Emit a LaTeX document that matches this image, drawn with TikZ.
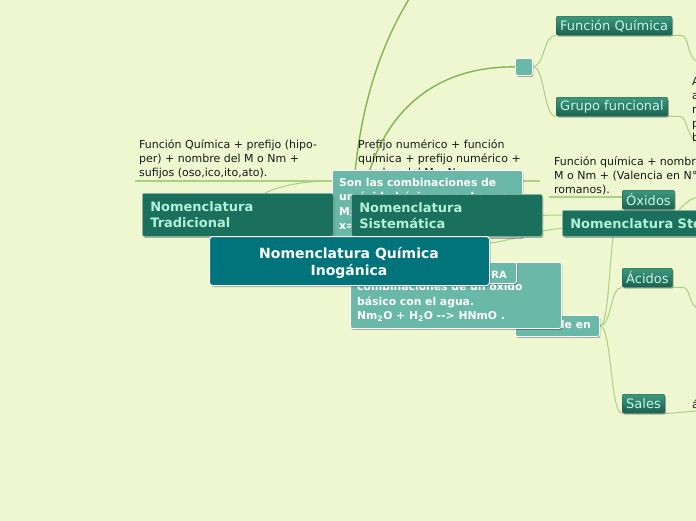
\documentclass[tikz,border=0pt]{standalone}
\usepackage{fontspec}
\setmainfont{DejaVu Sans}
\usetikzlibrary{shadows,calc}
\pgfdeclarelayer{back}
\pgfdeclarelayer{lines}
\pgfsetlayers{back,lines,main}
\definecolor{bgc}{RGB}{238,247,208}
\definecolor{centrec}{RGB}{0,116,122}
\definecolor{topicc}{RGB}{26,112,92}
\definecolor{topictxt}{RGB}{178,240,218}
\definecolor{lteal}{RGB}{106,184,167}
\definecolor{subtop}{RGB}{62,152,126}
\definecolor{subbot}{RGB}{26,98,80}
\definecolor{subtxt}{RGB}{200,245,228}
\definecolor{mainline}{RGB}{128,182,82}
\definecolor{thinline}{RGB}{170,208,130}
\definecolor{textc}{RGB}{25,25,25}
\newcommand{\mylines}[1]{\begin{tabular}[t]{@{}l@{}}#1\end{tabular}}
\newcommand{\mylinesc}[1]{\begin{tabular}[t]{@{}c@{}}#1\end{tabular}}
\tikzset{
  shad/.style={drop shadow={shadow xshift=1pt,shadow yshift=-1.5pt,opacity=0.3,fill=black}},
  topicbox/.style={fill=topicc,draw=white!55!topicc,line width=0.6pt,rounded corners=2pt,
    text=topictxt,font=\fontsize{13}{16}\selectfont\bfseries,inner xsep=8pt,inner ysep=0pt,
    align=left,anchor=north west,shad},
  subbox/.style={top color=subtop,bottom color=subbot,draw=subbot,line width=0.4pt,rounded corners=2pt,
    text=subtxt,font=\fontsize{13}{16}\selectfont,inner xsep=4pt,inner ysep=0pt,
    minimum height=19pt,anchor=north west,shad},
  lbox/.style={fill=lteal,draw=white,line width=0.8pt,rounded corners=2pt,anchor=north west,inner sep=0pt,shad},
  ltxt/.style={text=white,font=\fontsize{10.8}{14.5}\selectfont\bfseries,inner sep=0pt},
  plaintxt/.style={text=textc,font=\fontsize{11}{14}\selectfont,inner sep=0pt,anchor=base west},
  mainconn/.style={draw=mainline,line width=1.4pt},
  thinconn/.style={draw=thinline,line width=1pt},
  uline/.style={draw=thinline,line width=1.2pt},
}
\begin{document}
\begin{tikzpicture}[x=1pt,y=-1pt]
\useasboundingbox (0,0) rectangle (696,520);
\clip (0,0) rectangle (696,520);
\begin{pgfonlayer}{back}
\fill[bgc] (-5,-5) rectangle (701,525);
\end{pgfonlayer}

% text topics
\node[plaintxt] (lefttxt) at (139,148) {\mylines{Función Química + prefijo (hipo-\\per) + nombre del M o Nm +\\sufijos (oso,ico,ito,ato).}};
\node[plaintxt] (midtxt) at (358,148) {\mylines{Prefijo numérico + función\\química + prefijo numérico +\\nombre del M o Nm.}};
\node[plaintxt] (righttxt) at (554,165) {\mylines{Función química + nombre del\\M o Nm + (Valencia en N°\\romanos).}};
\node[plaintxt] (edgetxt) at (692,85) {\mylines{A\\a\\r\\p\\b}};
\node[plaintxt] (edgetxt2) at (692,408) {á};

% top right branch
\node[lbox,minimum width=17pt,minimum height=17pt] (sq) at (515,58) {};
\node[subbox] (fq) at (556,16) {Función Química};
\node[subbox] (gf) at (556,97) {Grupo funcional};

% hidden box behind Sistematica
\node[lbox,minimum width=190pt,minimum height=67pt] (son) at (332,170) {};
\node[ltxt,anchor=base west] (sontxt) at (339,186) {\mylines{Son las combinaciones de\\un óxido básico con el agua\\M\textsubscript{2}O\textsubscript{x} + H\textsubscript{2}O -{}-> M(OH)\textsubscript{x}\\x= valencia}};

% main topics
\node[topicbox,text width=175pt,minimum height=43pt] (trad) at (142,193) {Nomenclatura\\Tradicional};
\node[topicbox,text width=175pt,minimum height=42pt] (sis) at (351,194) {Nomenclatura\\Sistemática};
\node[topicbox,text width=184pt,minimum height=26pt] (stock) at (562,210) {Nomenclatura Stock};

% lower boxes
\node[lbox,minimum width=84pt,minimum height=21pt] (div) at (515,315) {};
\node[ltxt,anchor=base east] (divtxt) at (591,328) {Se divide en};
\node[lbox,minimum width=211pt,minimum height=66pt] (bigb) at (350,262) {};
\node[ltxt,anchor=base west] (bigtxt) at (357,276) {\mylines{Son las\\combinaciones de un óxido\\básico con el agua.\\Nm\textsubscript{2}O + H\textsubscript{2}O -{}-> HNmO .}};
\node[lbox,minimum width=98pt,minimum height=21pt] (ura) at (418,262) {};
\node[ltxt,font=\fontsize{10}{12}\selectfont\bfseries,anchor=base east] (uratxt) at (507,278) {ESTRUCTURA};

% central topic
\node[fill=centrec,draw=white,line width=1pt,rounded corners=3pt,
  minimum width=280pt,minimum height=49pt,inner sep=0pt,anchor=north west,shad] (centre) at (209,236) {};
\node[text=white,font=\fontsize{14}{17}\selectfont\bfseries,inner sep=0pt,anchor=base] (centretxt) at (349,258) {\mylinesc{Nomenclatura Química\\Inogánica}};

% subtopics of Stock
\node[subbox] (ox) at (622,190) {Óxidos};
\node[subbox] (ac) at (622,268) {Ácidos};
\node[subbox] (sa) at (622,394) {Sales};

\begin{pgfonlayer}{lines}
\coordinate (topA) at (416,-12);
\coordinate (fqend) at (700,62);
\coordinate (gfend) at (700,142);
\coordinate (acend) at (700,309);
\coordinate (saend) at (700,411);
\coordinate (oxend) at (700,197);
\coordinate (lu1) at (135,181);
\coordinate (lu2) at (333,181);
\coordinate (mu1) at (355,181);
\coordinate (mu2) at (540,181);
\coordinate (ru1) at (549,197);
\coordinate (ru2) at (640,197);
\draw[mainconn] ($(centre.north west)+(143,0)$) .. controls (352,130) and (375,50) .. (topA);
\draw[mainconn] ($(centre.north west)+(149,0)$) .. controls (364,130) and (420,66) .. (sq.west);
\draw[thinconn] (sq.east) .. controls (545,66) and (543,35) .. (fq.south west);
\draw[thinconn] (sq.east) .. controls (545,66) and (543,116) .. (gf.south west);
\draw[thinconn] (fq.south east) -- ++(9,0) .. controls (690,35) and (686,61) .. (fqend);
\draw[thinconn] (gf.south east) -- ++(12,0) .. controls (688,116) and (686,141) .. (gfend);
\draw[uline] (lu1) -- (lu2);
\draw[thinconn] ($(trad.north west)+(123,0)$) .. controls (285,184) and (308,181) .. (lu2);
\draw[uline] (mu1) -- (mu2);
\draw[uline] (ru1) -- (ru2);
\draw[thinconn] ($(centre.north east)+(0,7)$) .. controls (515,240) and (540,229) .. ($(stock.south west)+(0,-8)$);
\draw[thinconn] (sis.east) -- ($(stock.north west)+(0,5)$);
\draw[thinconn] (div.east) .. controls (612,325.5) and (608,209) .. (ox.south west);
\draw[thinconn] (div.east) .. controls (612,325.5) and (610,287) .. (ac.south west);
\draw[thinconn] (div.east) .. controls (612,325.5) and (610,413) .. (sa.south west);
\draw[thinconn] (ac.south east) -- ++(10,0) .. controls (691,287) and (688,307) .. (acend);
\draw[thinconn] (sa.south east) .. controls (680,413) and (690,411) .. (saend);
\draw[thinconn] ($(ox.south east)+(0,4)$) .. controls (685,205) and (688,198) .. (oxend);
\end{pgfonlayer}
\end{tikzpicture}
\end{document}
